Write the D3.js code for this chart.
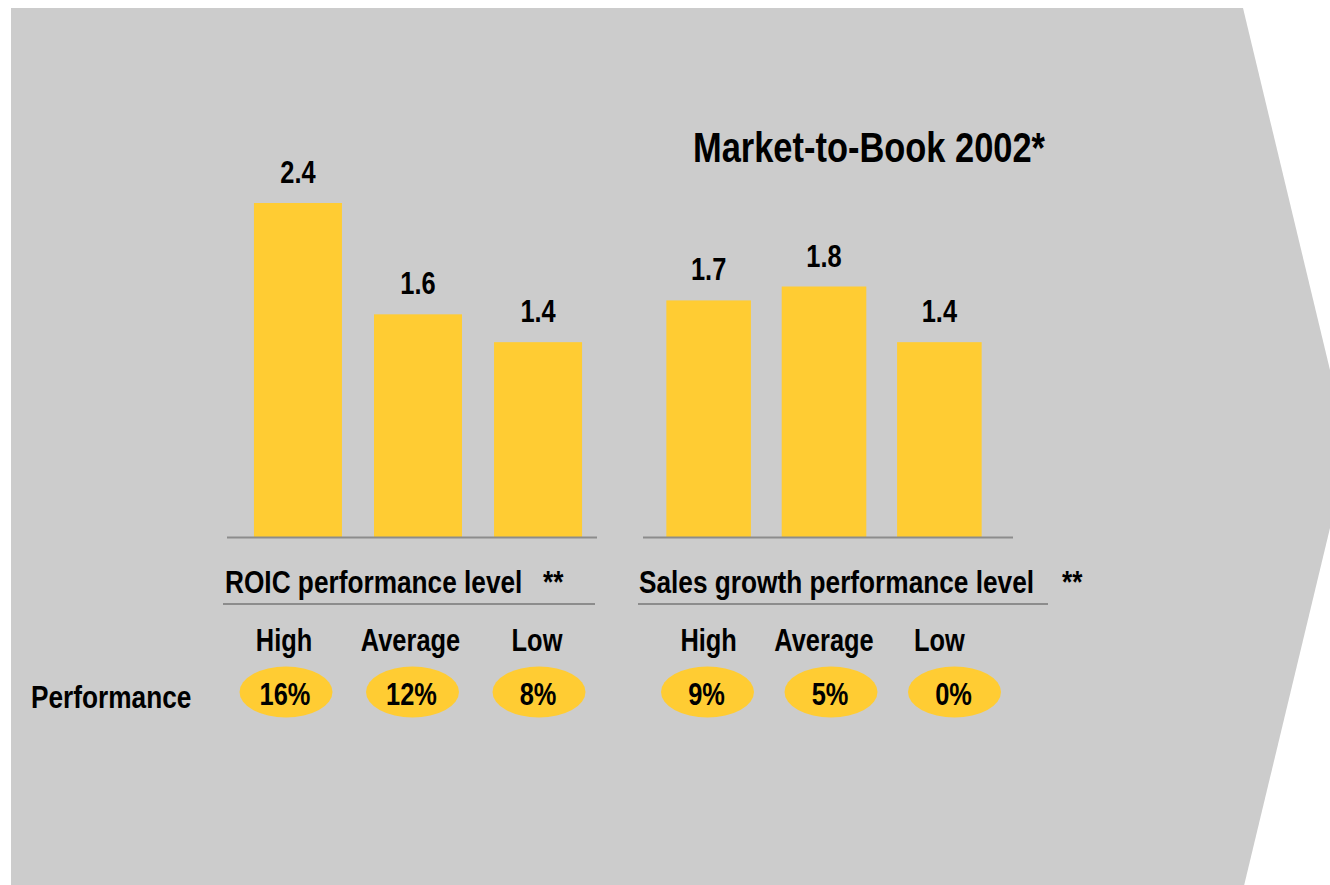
<!DOCTYPE html>
<html>
<head>
<meta charset="utf-8">
<script src="https://cdn.jsdelivr.net/npm/d3@7"></script>
<style>
  html, body { margin: 0; padding: 0; background: #ffffff; }
  svg { display: block; }
</style>
</head>
<body>
<svg id="chart" width="1330" height="885"></svg>
<script>
// Market-to-Book 2002 by performance level
const categories = ["High", "Average", "Low"];
const roicValues = [2.4, 1.6, 1.4];
const growthValues = [1.7, 1.8, 1.4];
const roicPerformance = ["16%", "12%", "8%"];
const growthPerformance = ["9%", "5%", "0%"];
const title = "Market-to-Book 2002*";
const roicHeading = "ROIC performance level";
const growthHeading = "Sales growth performance level";
const rowLabel = "Performance";

const W = 1330, H = 885;
const YELLOW = "#FFCC33", PANEL = "#CCCCCC", RULE = "#8C8C8C";
const svg = d3.select("#chart");

// Condensed bold face: Arial-metric sans squeezed horizontally
const NARROW = 0.82;
function label(g, x, y, text, size, anchor) {
  return g.append("text")
    .attr("transform", `translate(${x},${y}) scale(${NARROW},1)`)
    .attr("text-anchor", anchor || "middle")
    .attr("font-family", "'Liberation Sans', Arial, sans-serif")
    .attr("font-weight", "bold")
    .attr("font-size", size)
    .attr("fill", "#000")
    .text(text);
}

// Grey arrow-shaped panel behind everything
svg.append("path")
  .attr("d", d3.line()([[11, 8], [1243, 8], [1349, 449], [1243, 890], [11, 890]]) + "Z")
  .attr("fill", PANEL);

const y = d3.scaleLinear().domain([0, 2.4]).range([537, 203]);

const groups = [
  { values: roicValues, perf: roicPerformance, heading: roicHeading,
    band: [238, 598], axis: [227, 597], rule: [223, 595], star: 543, headX: 225,
    ovals: [286, 539], namesOnOvals: true },
  { values: growthValues, perf: growthPerformance, heading: growthHeading,
    band: [651, 997], axis: [643, 1013], rule: [638, 1048], star: 1062, headX: 639,
    ovals: [707.5, 954.5], namesOnOvals: false }
];

groups.forEach(gr => {
  const g = svg.append("g");
  const x = d3.scaleBand().domain(categories).range(gr.band)
    .paddingInner(0.267).paddingOuter(0.133);
  const ox = d3.scalePoint().domain(categories).range(gr.ovals);

  g.selectAll("rect").data(gr.values).join("rect")
    .attr("x", (d, i) => x(categories[i]))
    .attr("width", x.bandwidth())
    .attr("y", d => y(d))
    .attr("height", d => y(0) - y(d))
    .attr("fill", YELLOW);

  gr.values.forEach((v, i) => {
    label(g, x(categories[i]) + x.bandwidth() / 2, y(v) - 20, d3.format(".1f")(v), 31);
  });

  // baseline
  g.append("line")
    .attr("x1", gr.axis[0]).attr("x2", gr.axis[1])
    .attr("y1", y(0) + 0.5).attr("y2", y(0) + 0.5)
    .attr("stroke", RULE).attr("stroke-width", 2);

  // heading with underline
  label(g, gr.headX, 593, gr.heading, 32, "start");
  label(g, gr.star, 593, "**", 32, "start");
  g.append("line")
    .attr("x1", gr.rule[0]).attr("x2", gr.rule[1])
    .attr("y1", 604).attr("y2", 604)
    .attr("stroke", RULE).attr("stroke-width", 2);

  // category names
  categories.forEach(c => {
    const cx = gr.namesOnOvals ? ox(c) - 2 : x(c) + x.bandwidth() / 2;
    label(g, cx, 651, c, 31);
  });

  // performance ovals
  categories.forEach((c, i) => {
    g.append("ellipse")
      .attr("cx", ox(c)).attr("cy", 692)
      .attr("rx", 46.5).attr("ry", 25.5)
      .attr("fill", YELLOW);
    label(g, ox(c) - 1, 705, gr.perf[i], 31);
  });
});

label(svg, 31, 708, rowLabel, 32, "start");
label(svg, 693, 162, title, 42, "start");
</script>
</body>
</html>
